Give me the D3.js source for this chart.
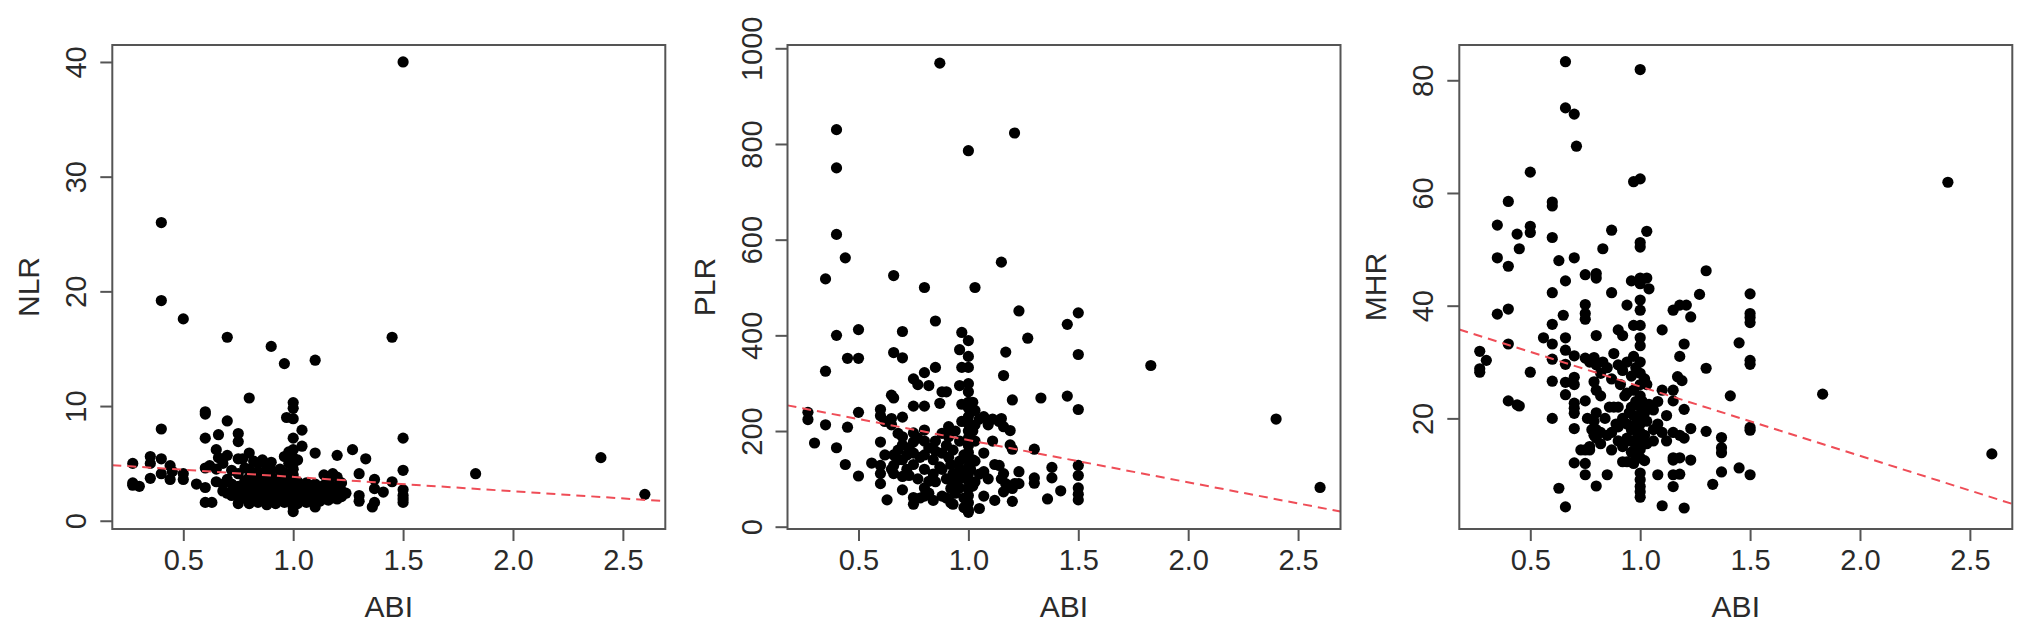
<!DOCTYPE html>
<html>
<head>
<meta charset="utf-8">
<script src="https://cdn.jsdelivr.net/npm/d3@7"></script>
<style>
  html, body { margin: 0; padding: 0; background: #fff; }
  svg { display: block; }
  text { font-family: "Liberation Sans", Arial, Helvetica, sans-serif; fill: #2a2a2a; }
</style>
</head>
<body>
<div id="chart"></div>
<script>
// ---------------- data ----------------
const xTitle = "ABI";
const yTitles = ["NLR", "PLR", "MHR"];
const xTickValues = [0.5, 1.0, 1.5, 2.0, 2.5];
const yTickValues = [[0, 10, 20, 30, 40], [0, 200, 400, 600, 800, 1000], [20, 40, 60, 80]];
const xLimits = [0.177, 2.693];
const yLimits = [[-0.72, 41.48], [-4.8, 1006.9], [0.37, 86.26]];
const fitIntercepts = [5.07, 269.2, 37.95];
const fitSlopes = [-1.25, -88.2, -12.3];

const abiNlr = [
[1.50,40.0],[0.40,26.0],[0.40,19.2],[0.50,17.6],[0.70,16.0],[0.90,15.2],[0.96,13.7],[1.10,14.0],[1.45,16.0],
[0.80,10.7],[0.40,8.0],[0.60,9.5],[0.60,9.3],[0.60,7.2],[0.70,8.7],[0.66,7.5],[0.75,7.6],[0.75,6.9],
[1.00,10.3],[1.00,9.8],[0.97,9.0],[1.00,8.9],[1.04,7.9],[1.00,7.2],[1.04,6.5],[1.10,5.9],[1.50,7.2],[1.27,6.2],[1.33,5.4],[1.20,5.7],
[1.83,4.1],[2.40,5.5],[2.60,2.3],
[1.50,4.4],[1.45,3.4],[1.50,2.7],[1.50,2.2],[1.50,1.6],[1.50,1.9],
[1.30,4.1],[1.30,2.2],[1.30,1.7],[1.37,3.6],[1.37,2.8],[1.41,2.5],[1.36,1.2],[1.37,1.6],
[0.27,5.0],[0.27,3.3],[0.27,3.1],[0.30,3.0],[0.35,5.6],[0.35,5.0],[0.35,3.7],[0.40,5.4],[0.40,4.1],[0.44,4.8],[0.44,3.6],[0.45,4.3],[0.50,4.1],[0.50,3.6],[0.56,3.2],
[0.60,4.6],[0.60,2.9],[0.60,1.6],[0.63,1.6],[0.62,4.8],[0.65,6.2],[0.65,3.4],[0.65,4.5],[0.66,5.5],[0.68,5.0],[0.68,3.2],[0.68,2.6],[0.70,5.7],[0.70,3.6],[0.70,2.4],[0.72,4.4],[0.72,3.2],[0.72,2.2],[0.73,2.7],
[0.75,5.4],[0.75,4.1],[0.75,3.0],[0.75,2.3],[0.75,1.5],[0.77,5.4],
[0.78,2.0],[0.78,2.8],[0.78,3.5],[0.78,4.6],
[0.80,1.5],[0.80,2.2],[0.80,2.6],[0.80,3.1],[0.80,3.8],[0.80,4.5],[0.80,5.9],
[0.82,1.8],[0.82,2.4],[0.82,3.3],[0.82,5.2],
[0.84,1.6],[0.84,2.1],[0.84,2.9],[0.84,3.6],[0.84,4.3],[0.84,5.0],
[0.86,1.9],[0.86,2.5],[0.86,3.2],[0.86,4.0],[0.86,5.3],
[0.88,1.4],[0.88,2.0],[0.88,2.7],[0.88,3.4],[0.88,4.7],
[0.90,1.7],[0.90,2.3],[0.90,3.0],[0.90,3.7],[0.90,4.4],[0.90,5.1],
[0.92,1.5],[0.92,2.1],[0.92,2.6],[0.92,3.3],
[0.94,1.8],[0.94,2.4],[0.94,3.0],[0.94,3.9],[0.94,4.5],
[0.96,1.6],[0.96,2.2],[0.96,2.8],[0.96,3.5],[0.96,4.2],[0.96,5.6],
[0.98,1.9],[0.98,2.5],[0.98,3.1],[0.98,3.8],[0.98,5.0],[0.98,6.0],
[1.00,0.8],[1.00,1.2],[1.00,1.6],[1.00,2.0],[1.00,2.4],[1.00,2.8],[1.00,3.2],[1.00,3.6],[1.00,4.0],[1.00,4.5],[1.00,5.0],[1.00,5.5],[1.00,6.2],
[1.02,1.5],[1.02,2.2],[1.02,2.9],[1.02,3.4],[1.02,5.3],
[1.04,1.8],[1.04,2.4],[1.04,3.0],
[1.06,1.6],[1.06,2.1],[1.06,2.7],[1.06,3.3],
[1.08,1.9],[1.08,2.5],[1.08,3.0],
[1.10,1.2],[1.10,2.0],[1.10,2.6],[1.10,3.2],
[1.12,1.7],[1.12,2.3],[1.12,2.8],
[1.14,1.9],[1.14,2.4],[1.14,3.1],[1.14,4.0],
[1.16,1.8],[1.16,2.2],[1.16,2.7],[1.16,3.5],
[1.18,2.0],[1.18,2.5],[1.18,3.0],[1.18,4.1],
[1.20,1.9],[1.20,2.3],[1.20,2.9],[1.20,3.8],
[1.22,2.1],[1.22,2.6],[1.22,3.3],[1.24,2.4]
];

const abiPlr = [
[0.27,239],[0.27,224],[0.30,175],[0.35,518],[0.35,325],[0.35,213],[0.40,830],[0.40,750],[0.40,611],[0.40,400],[0.40,165],
[0.44,562],[0.44,130],[0.45,352],[0.45,208],[0.50,412],[0.50,352],[0.50,239],[0.50,106],[0.56,133],
[0.66,525],[0.66,364],[0.70,408],[0.70,353],[0.80,500],[0.85,430],[0.87,969],
[1.83,337],[2.40,225],[2.60,82],
[0.60,245],[0.60,232],[0.60,177],[0.60,128],[0.60,111],[0.60,90],
[0.62,220],[0.62,150],[0.63,56],
[0.65,275],[0.65,226],[0.65,213],[0.65,120],
[0.66,269],[0.66,150],[0.66,128],[0.66,111],
[0.68,160],[0.68,140],[0.68,195],
[0.70,229],[0.70,188],[0.70,171],[0.70,77],[0.70,140],[0.70,105],
[0.72,150],[0.72,120],[0.73,107],[0.73,165],
[0.75,309],[0.75,252],[0.75,196],[0.75,177],[0.75,154],[0.75,61],[0.75,47],[0.75,130],
[0.77,297],[0.77,185],[0.77,100],[0.78,145],[0.78,60],
[0.80,322],[0.80,252],[0.80,202],[0.80,179],[0.80,120],[0.80,81],[0.80,64],[0.80,150],
[0.82,295],[0.82,165],[0.82,95],[0.82,70],
[0.84,140],[0.84,110],[0.84,55],
[0.85,333],[0.85,179],[0.85,158],[0.85,94],
[0.87,258],[0.87,125],
[0.88,282],[0.88,154],[0.88,120],[0.88,64],[0.88,195],
[0.90,282],[0.90,100],[0.90,170],[0.90,60],
[0.91,209],[0.91,188],[0.91,145],
[0.92,130],[0.92,80],[0.92,50],
[0.93,111],[0.93,90],[0.93,47],[0.93,160],
[0.94,200],[0.94,70],
[0.96,370],[0.96,295],[0.96,179],[0.96,137],[0.96,81],[0.96,120],[0.96,100],
[0.97,406],[0.97,333],[0.97,256],[0.97,220],
[0.98,150],[0.98,110],[0.98,60],[0.98,40],
[1.00,786],[1.00,389],[1.00,356],[1.00,333],[1.00,299],[1.00,282],[1.00,260],[1.00,248],[1.00,230],[1.00,215],[1.00,200],[1.00,185],[1.00,170],[1.00,155],[1.00,140],[1.00,125],[1.00,110],[1.00,95],[1.00,80],[1.00,65],[1.00,50],[1.00,35],[1.00,30],
[1.01,240],[1.01,180],[1.01,120],
[1.02,260],[1.02,200],[1.02,140],[1.02,85],
[1.03,500],[1.03,243],[1.03,213],[1.03,179],[1.03,137],[1.03,94],
[1.05,38],[1.05,225],[1.05,110],
[1.07,230],[1.07,154],[1.07,115],[1.07,64],
[1.09,213],[1.09,100],
[1.11,179],[1.11,225],
[1.12,55],[1.12,130],
[1.14,128],[1.14,220],
[1.15,553],[1.15,226],[1.15,100],
[1.16,316],[1.16,209],[1.16,111],[1.16,73],
[1.17,365],[1.17,90],
[1.19,201],[1.19,171],
[1.20,265],[1.20,162],[1.20,53],[1.20,80],
[1.21,823],[1.21,90],
[1.23,451],[1.23,115],[1.23,90],
[1.27,394],[1.30,162],[1.30,102],[1.30,91],[1.33,269],[1.36,58],[1.38,124],[1.38,102],[1.42,75],
[1.45,423],[1.45,273],
[1.50,447],[1.50,360],[1.50,245],[1.50,128],[1.50,107],[1.50,81],[1.50,68],[1.50,56]
];

const abiMhr = [
[0.27,31.9],[0.27,28.8],[0.27,28.2],[0.30,30.3],
[0.35,54.3],[0.35,48.5],[0.35,38.5],
[0.40,58.5],[0.40,47.0],[0.40,39.4],[0.40,33.2],[0.40,23.1],
[0.44,52.7],[0.44,22.4],[0.45,50.1],[0.45,22.2],
[0.50,63.7],[0.50,54.1],[0.50,53.0],[0.50,28.2],
[0.56,34.3],
[0.60,58.4],[0.60,57.7],[0.60,52.1],[0.60,42.3],[0.60,36.7],[0.60,33.2],[0.60,30.5],[0.60,26.6],[0.60,20.0],
[0.63,48.0],[0.63,7.6],[0.65,38.3],
[0.66,83.3],[0.66,75.1],[0.66,44.4],[0.66,34.3],[0.66,32.1],[0.66,29.6],[0.66,26.4],[0.66,24.2],[0.66,4.3],
[0.70,74.0],[0.70,48.5],[0.70,31.1],[0.70,27.3],[0.70,26.0],[0.70,22.7],[0.70,21.8],[0.70,20.9],[0.70,18.2],[0.70,12.1],
[0.71,68.3],[0.73,14.4],
[0.75,45.5],[0.75,40.2],[0.75,38.6],[0.75,37.6],[0.75,30.7],[0.75,23.1],[0.75,14.4],[0.75,12.0],[0.75,10.0],
[0.76,20.0],[0.77,14.4],[0.77,30.0],[0.77,15.0],[0.78,18.0],
[0.79,30.8],[0.79,26.5],[0.79,19.5],[0.79,17.0],
[0.80,45.7],[0.80,44.9],[0.80,34.7],[0.80,29.5],[0.80,25.0],[0.80,21.0],[0.80,18.0],[0.80,16.5],[0.80,8.0],
[0.82,28.0],[0.82,24.0],[0.82,17.5],[0.82,15.5],
[0.83,50.1],[0.83,30.0],[0.84,20.0],
[0.85,29.0],[0.85,17.0],[0.85,10.0],[0.86,22.0],
[0.87,53.4],[0.87,42.3],[0.87,27.0],[0.87,17.5],[0.87,14.4],
[0.88,31.5],[0.88,22.0],[0.89,19.0],
[0.90,35.7],[0.90,29.5],[0.90,22.0],[0.90,18.5],[0.90,16.0],
[0.91,26.0],
[0.92,34.7],[0.92,28.5],[0.92,20.0],[0.92,15.0],[0.92,12.3],
[0.93,24.0],
[0.94,40.1],[0.94,30.0],[0.94,24.5],[0.94,19.0],[0.94,16.5],[0.94,12.3],
[0.95,21.0],[0.95,16.0],
[0.96,44.4],[0.96,27.5],[0.96,22.0],[0.96,18.0],[0.96,14.0],
[0.97,62.0],[0.97,36.5],[0.97,31.0],[0.97,25.0],[0.97,20.5],[0.97,16.0],[0.97,12.0],
[0.98,29.0],[0.98,23.0],[0.98,19.0],[0.98,15.0],[0.98,13.0],[0.99,17.0],
[1.00,81.9],[1.00,62.5],[1.00,51.2],[1.00,50.4],[1.00,44.9],[1.00,43.9],[1.00,41.0],[1.00,39.2],[1.00,36.5],[1.00,34.3],[1.00,32.9],[1.00,30.0],[1.00,28.0],[1.00,26.0],[1.00,24.0],[1.00,22.0],[1.00,20.5],[1.00,19.0],[1.00,17.5],[1.00,16.0],[1.00,14.5],[1.00,13.0],[1.00,10.3],[1.00,9.1],[1.00,7.9],[1.00,7.0],[1.00,6.0],
[1.01,23.0],
[1.02,27.0],[1.02,21.0],[1.02,17.0],[1.02,12.5],
[1.03,53.2],[1.03,44.9],[1.03,26.0],[1.03,19.5],[1.03,15.5],
[1.04,43.0],[1.04,22.5],
[1.06,21.5],[1.06,18.0],[1.06,16.0],
[1.08,10.0],[1.08,19.0],[1.08,23.0],
[1.10,35.7],[1.10,25.0],[1.10,17.5],[1.10,4.5],
[1.12,20.5],[1.12,16.0],
[1.15,39.2],[1.15,25.0],[1.15,23.1],[1.15,17.5],[1.15,13.0],[1.15,12.6],[1.15,10.0],[1.15,7.9],
[1.17,27.4],
[1.18,40.1],[1.18,31.0],[1.18,17.0],[1.18,13.0],[1.18,10.1],
[1.19,26.7],
[1.20,33.2],[1.20,21.6],[1.20,16.5],[1.20,4.1],
[1.21,40.1],
[1.23,38.0],[1.23,18.2],[1.23,12.6],
[1.27,42.0],
[1.30,46.2],[1.30,28.9],[1.30,17.7],
[1.33,8.3],
[1.37,16.6],[1.37,14.8],[1.37,13.9],[1.37,10.5],
[1.41,24.0],
[1.45,33.4],[1.45,11.2],
[1.50,42.1],[1.50,38.6],[1.50,37.9],[1.50,37.0],[1.50,30.3],[1.50,29.6],[1.50,18.4],[1.50,17.9],[1.50,10.0],
[1.83,24.3],[2.40,61.9],[2.60,13.7]
];

const panelData = [abiNlr, abiPlr, abiMhr];

// ---------------- layout ----------------
const W = 2031, H = 640;
const boxLefts = [112.3, 787.5, 1459.3];
const boxW = 553, boxTop = 45, boxBottom = 529;
const tickFont = 29, titleFont = 30;
const lineColor = "#555";
const textColor = "#2a2a2a";

const svg = d3.select("#chart").append("svg")
  .attr("width", W).attr("height", H)
  .attr("viewBox", `0 0 ${W} ${H}`);

panelData.forEach((data, i) => {
  const left = boxLefts[i];
  const x = d3.scaleLinear().domain(xLimits).range([left, left + boxW]);
  const y = d3.scaleLinear().domain(yLimits[i]).range([boxBottom, boxTop]);
  const g = svg.append("g");

  const clipId = "clip" + i;
  svg.append("clipPath").attr("id", clipId)
    .append("rect").attr("x", left).attr("y", boxTop)
    .attr("width", boxW).attr("height", boxBottom - boxTop);

  // points
  g.append("g").selectAll("circle").data(data).join("circle")
    .attr("cx", d => x(d[0]))
    .attr("cy", d => y(d[1]))
    .attr("r", 5.6)
    .attr("fill", "#000");

  // fitted regression line (red dashed)
  const fit = xLimits.map(v => [v, fitIntercepts[i] + fitSlopes[i] * v]);
  g.append("path")
    .attr("clip-path", `url(#${clipId})`)
    .attr("d", d3.line().x(d => x(d[0])).y(d => y(d[1]))(fit))
    .attr("fill", "none")
    .attr("stroke", "#ef4d57")
    .attr("stroke-width", 2)
    .attr("stroke-dasharray", "9,6");

  // box
  g.append("rect")
    .attr("x", left).attr("y", boxTop)
    .attr("width", boxW).attr("height", boxBottom - boxTop)
    .attr("fill", "none").attr("stroke", lineColor).attr("stroke-width", 2);

  // x axis
  const xa = g.append("g").attr("transform", `translate(0,${boxBottom})`)
    .call(d3.axisBottom(x).tickValues(xTickValues).tickFormat(d3.format(".1f")).tickSize(12));
  xa.select(".domain").remove();
  xa.selectAll("line").attr("stroke", lineColor).attr("stroke-width", 2);
  xa.selectAll("text")
    .attr("y", 41).attr("dy", 0)
    .style("font-size", tickFont + "px")
    .style("font-family", "'Liberation Sans', Arial, sans-serif")
    .attr("fill", textColor);

  // y axis
  const ya = g.append("g").attr("transform", `translate(${left},0)`)
    .call(d3.axisLeft(y).tickValues(yTickValues[i]).tickFormat(d3.format("d")).tickSize(12));
  ya.select(".domain").remove();
  ya.selectAll("line").attr("stroke", lineColor).attr("stroke-width", 2);
  ya.selectAll("text")
    .attr("x", 0).attr("y", -26).attr("dy", 0)
    .attr("text-anchor", "middle")
    .attr("transform", "rotate(-90)")
    .style("font-size", tickFont + "px")
    .style("font-family", "'Liberation Sans', Arial, sans-serif")
    .attr("fill", textColor);

  // titles
  g.append("text")
    .attr("x", left + boxW / 2).attr("y", 617)
    .attr("text-anchor", "middle")
    .style("font-size", titleFont + "px")
    .attr("fill", textColor)
    .text(xTitle);

  const cy = (boxTop + boxBottom) / 2;
  g.append("text")
    .attr("transform", `translate(${left - 73},${cy}) rotate(-90)`)
    .attr("text-anchor", "middle")
    .style("font-size", titleFont + "px")
    .attr("fill", textColor)
    .text(yTitles[i]);
});
</script>
</body>
</html>
